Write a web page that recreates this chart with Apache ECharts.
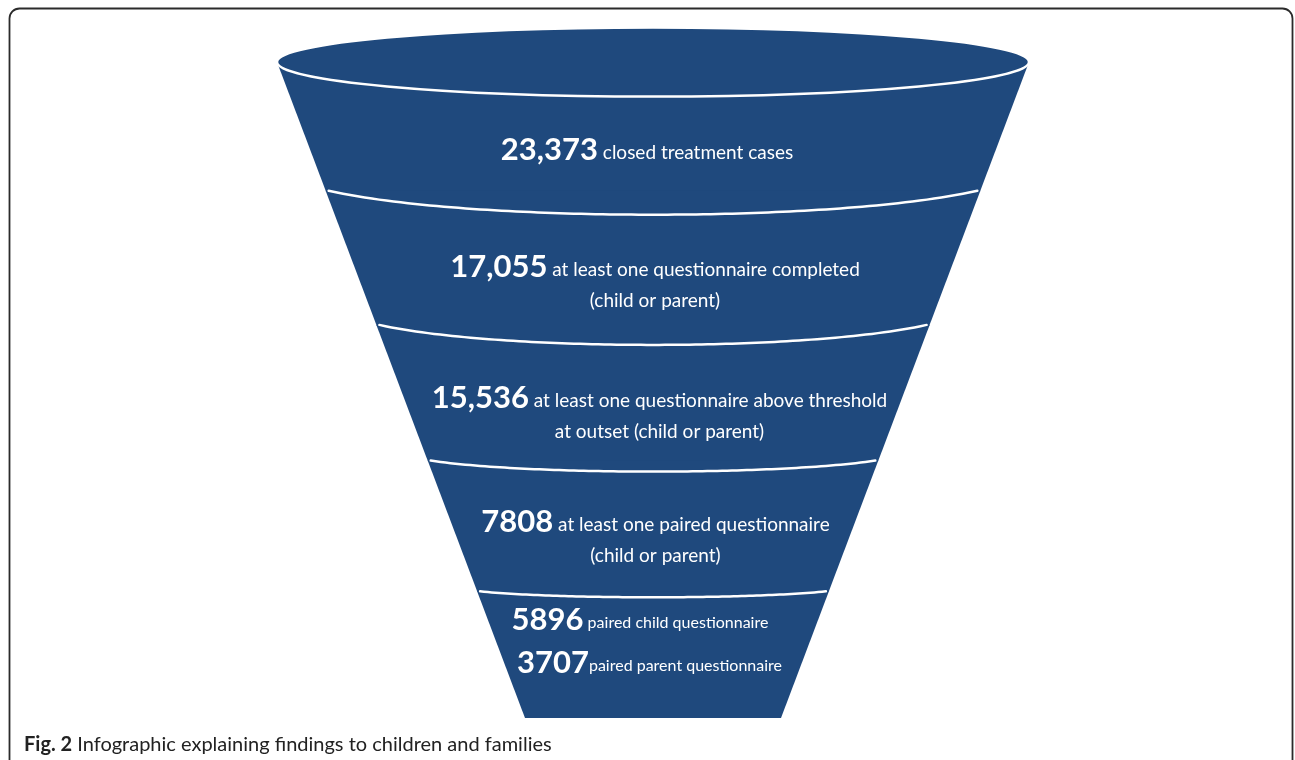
<!DOCTYPE html>
<html>
<head>
<meta charset="utf-8">
<script src="https://cdn.jsdelivr.net/npm/echarts@6/dist/echarts.min.js"></script>
<style>html,body{margin:0;padding:0;background:#fff}#c{width:1295px;height:760px}</style>
</head>
<body>
<div id="c"></div>
<script>
// ---- data ----
const stageCounts = [23373, 17055, 15536, 7808, 5896, 3707];
const stageDescriptions = [
  ['closed treatment cases'],
  ['at least one questionnaire completed', '(child or parent)'],
  ['at least one questionnaire above threshold', 'at outset (child or parent)'],
  ['at least one paired questionnaire', '(child or parent)'],
  ['paired child questionnaire'],
  ['paired parent questionnaire']
];
const stageBand = [0, 1, 2, 3, 4, 4];
const numberJoiner = [' ', ' ', ' ', ' ', ' ', ''];
const bands = [0, 1, 2, 3, 4];
const captionBold = 'Fig. 2';
const captionText = 'Infographic explaining findings to children and families';

// ---- layout / style ----
const FILL = '#1F497D';
const FONT = 'Lato, "Open Sans", sans-serif';
const TOP_HALF = 376, BOTTOM_HALF = 128;
const ELLIPSE_RY = 34.5;
const EDGE_NUDGE = [0, -2.5, 0.5, 5, 4.5, 0];   // px fine-tuning of band edges
const SEP_SAG = [0, 24, 20, 11, 6];
const SEP_INSET = 3;
const SEP_SPREAD = 1.12;
const LABEL_POS = [0.671, 0.5625, 0.561, 0.506, 0.253, 0.581];
const LABEL_DX = [-6, 2, 6.5, 2.5, -13, -3.5];
const NUM_SIZE = [31, 31, 31, 31, 31, 31];
const DESC_SIZE = [19, 19, 19, 19, 16, 16];
const NUM_LH = 34, DESC_LH = 28;

function fmt(n) { return n >= 10000 ? n.toLocaleString('en-US') : String(n); }

function renderBand(params, api) {
  const b = api.value(0);
  const n = bands.length;
  const y0 = api.coord([0, 0])[1], yN = api.coord([0, n])[1];
  const cx = api.coord([0, 0])[0];
  const pxPerUnit = api.coord([1, 0])[0] - cx;
  const hwAt = y => (TOP_HALF + (BOTTOM_HALF - TOP_HALF) * (y - y0) / (yN - y0)) * pxPerUnit;
  const yT = api.coord([0, b])[1] + EDGE_NUDGE[b];
  const yB = api.coord([0, b + 1])[1] + EDGE_NUDGE[b + 1] + (b < n - 1 ? 0.8 : 0);
  const hT = hwAt(yT), hB = hwAt(yB);
  const children = [{
    type: 'polygon',
    shape: { points: [[cx - hT, yT], [cx + hT, yT], [cx + hB, yB], [cx - hB, yB]] },
    style: { fill: FILL }
  }];
  if (b === 0) {
    children.push({
      type: 'ellipse',
      shape: { cx: cx, cy: yT, rx: hT, ry: ELLIPSE_RY },
      style: { fill: FILL, stroke: '#fff', lineWidth: 2.5 }
    });
  } else {
    const A = hT * SEP_SPREAD;
    const dxEnd = hT - SEP_INSET;
    const s0 = Math.sqrt(1 - Math.pow(dxEnd / A, 2));
    const B = SEP_SAG[b] / (1 - s0);
    const pts = [];
    const steps = 90;
    for (let k = 0; k <= steps; k++) {
      const dx = -dxEnd + 2 * dxEnd * k / steps;
      pts.push([cx + dx, yT + B * (Math.sqrt(1 - Math.pow(dx / A, 2)) - s0)]);
    }
    children.push({
      type: 'polyline',
      shape: { points: pts },
      style: { fill: null, stroke: '#fff', lineWidth: 2.5, lineCap: 'round', lineJoin: 'round' }
    });
  }
  return { type: 'group', children: children };
}

function renderLabel(params, api) {
  const i = params.dataIndex;
  const b = stageBand[i];
  const p = api.coord([0, b + LABEL_POS[i]]);
  const desc = stageDescriptions[i];
  let text = '{n|' + fmt(stageCounts[i]) + '}{d|' + numberJoiner[i] + desc[0] + '}';
  for (let k = 1; k < desc.length; k++) text += '\n{d|' + desc[k] + '}';
  return {
    type: 'text',
    x: p[0] + LABEL_DX[i],
    y: p[1] - NUM_LH / 2,
    style: {
      text: text,
      align: 'center',
      verticalAlign: 'top',
      rich: {
        n: { fontFamily: FONT, fontWeight: 'bold', fontSize: NUM_SIZE[i], lineHeight: NUM_LH, fill: '#fff' },
        d: { fontFamily: FONT, fontSize: DESC_SIZE[i], lineHeight: DESC_LH, fill: '#fff', padding: [6, 0, 0, 0] }
      }
    }
  };
}

const chart = echarts.init(document.getElementById('c'), null, { renderer: 'canvas' });
chart.setOption({
  animation: false,
  backgroundColor: '#fff',
  title: {
    text: '{b|' + captionBold + '} ' + captionText,
    left: 24,
    top: 735,
    padding: 0,
    textStyle: {
      fontFamily: FONT, fontSize: 20, fontWeight: 'normal', color: '#222', lineHeight: 20,
      rich: { b: { fontFamily: FONT, fontSize: 20, fontWeight: 'bold', color: '#222', lineHeight: 20 } }
    }
  },
  graphic: [{
    type: 'rect',
    shape: { x: 9.5, y: 8.5, width: 1283, height: 820, r: 10 },
    style: { fill: 'none', stroke: '#2b2b2b', lineWidth: 1.8 },
    silent: true
  }],
  grid: { left: 253, width: 800, top: 62, height: 656, outerBoundsMode: 'none' },
  xAxis: { type: 'value', min: -400, max: 400, show: false },
  yAxis: { type: 'value', min: 0, max: 5, inverse: true, show: false },
  series: [{
    type: 'custom',
    renderItem: renderBand,
    data: bands.map(b => [b]),
    encode: { x: -1, y: 0 },
    silent: true
  }, {
    type: 'custom',
    renderItem: renderLabel,
    data: stageCounts.map((c, i) => [stageBand[i], c]),
    encode: { x: -1, y: 0 },
    silent: true
  }]
});
</script>
</body>
</html>
